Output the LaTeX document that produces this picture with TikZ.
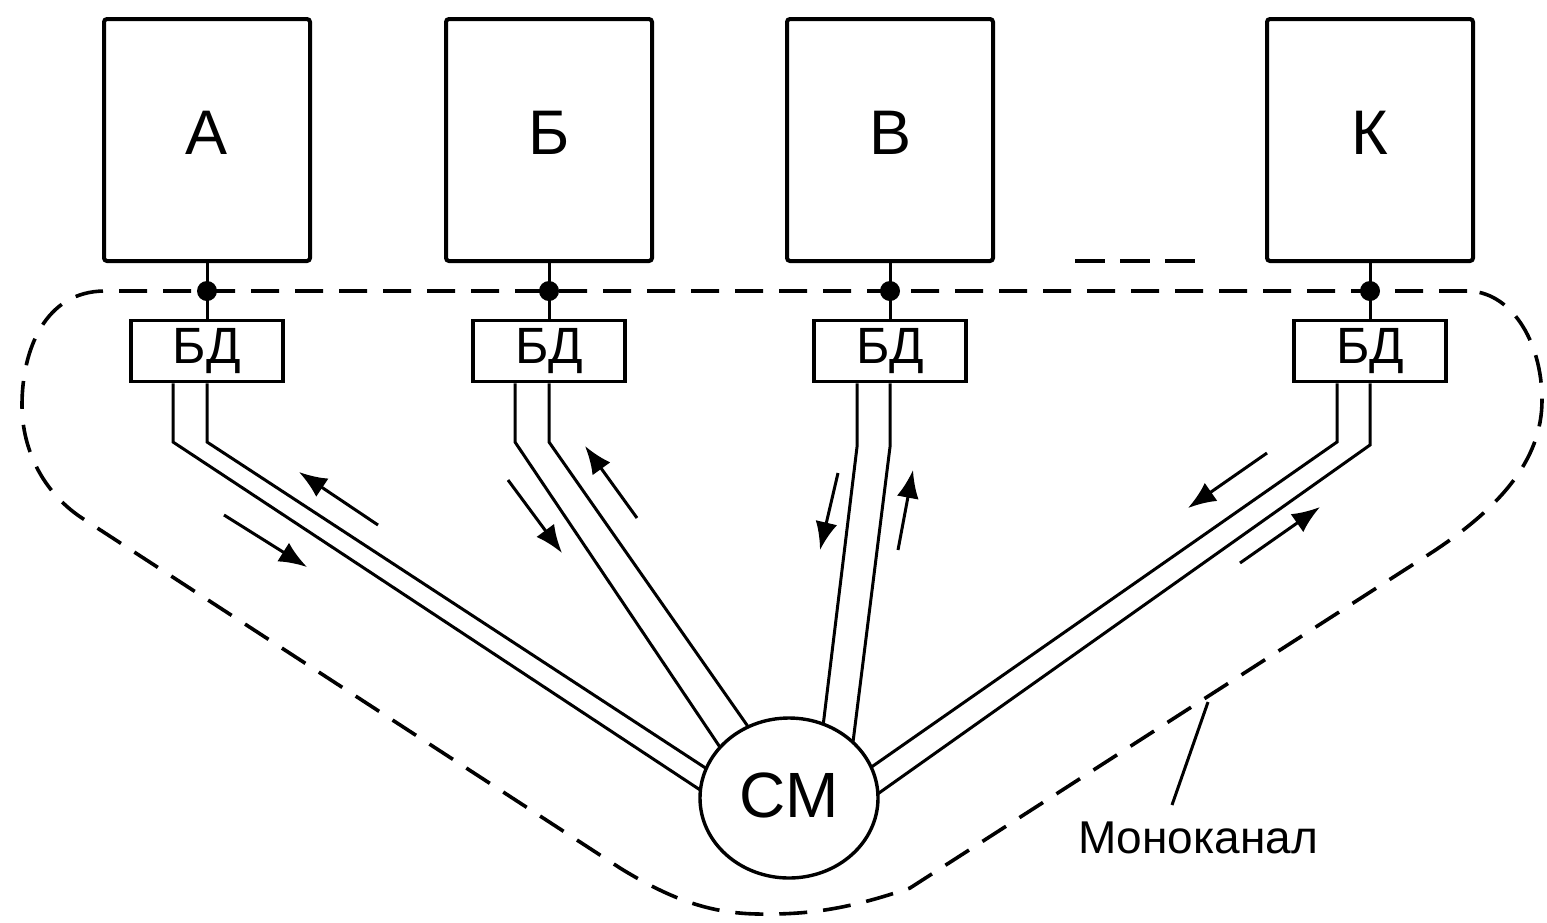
\documentclass[tikz,border=0pt]{standalone}
\usepackage{fontspec}
\setmainfont{Liberation Sans}
\usetikzlibrary{arrows.meta,shapes.geometric}
\begin{document}
\begin{tikzpicture}[x=1pt,y=-1pt,
  termbox/.style={draw, line width=4pt, rounded corners=3pt, minimum width=206pt, minimum height=242pt, inner sep=0pt, text depth=14pt, font=\fontsize{63}{70}\selectfont},
  bdbox/.style={draw, line width=3.5pt, minimum width=152pt, minimum height=61pt, inner sep=0pt, font=\fontsize{51}{56}\selectfont},
  wire/.style={line width=3pt},
  pair/.style={line width=3pt},
  junc/.style={circle, fill=black, inner sep=0pt, minimum size=20pt},
  flow/.style={line width=3pt, -{Latex[length=28pt,width=22pt]}},
  boundary/.style={line width=3.6pt, dash pattern=on 28pt off 16pt},
  cmnode/.style={draw, fill=white, ellipse, line width=3.4pt},
]
\useasboundingbox (0,0) rectangle (1547,922);

% terminals
\node[termbox] (A) at (207,140) {А};
\node[termbox] (B) at (549,140) {Б};
\node[termbox] (V) at (890,140) {В};
\node[termbox] (K) at (1370,140) {К};

% BD nodes
\node[bdbox] (bdA) at (207,351) {БД};
\node[bdbox] (bdB) at (549,351) {БД};
\node[bdbox] (bdV) at (890,351) {БД};
\node[bdbox] (bdK) at (1370,351) {БД};

% junctions
\node[junc] (jA) at (207,291) {};
\node[junc] (jB) at (549,291) {};
\node[junc] (jV) at (890,291) {};
\node[junc] (jK) at (1370,291) {};

\draw[wire] (A.south) -- (jA.center) -- (bdA.north);
\draw[wire] (B.south) -- (jB.center) -- (bdB.north);
\draw[wire] (V.south) -- (jV.center) -- (bdV.north);
\draw[wire] (K.south) -- (jK.center) -- (bdK.north);

% monochannel boundary
\draw[boundary] (1467,291) -- (105,291)
  .. controls (45,291) and (22,350) .. (22,405)
  .. controls (22,452) and (45,495) .. (85,520)
  -- (620,868)
  .. controls (680,905) and (720,915) .. (770,914)
  .. controls (820,914) and (860,905) .. (910,888)
  -- (1420,560)
  .. controls (1500,510) and (1542,460) .. (1542,400)
  .. controls (1542,340) and (1510,291) .. (1467,291);
\draw[boundary, dash pattern=on 30pt off 15pt] (1075,261) -- (1197,261);

% twin lines
\coordinate (a1b) at (173,442); \coordinate (a1e) at (726,807);
\coordinate (a2b) at (207,442); \coordinate (a2e) at (730,784);
\coordinate (b1b) at (515,442); \coordinate (b1e) at (736,771);
\coordinate (b2b) at (549,442); \coordinate (b2e) at (763,748);
\coordinate (v1b) at (857,447); \coordinate (v1e) at (820,751);
\coordinate (v2b) at (890,447); \coordinate (v2e) at (850,766);
\coordinate (k1b) at (1337,442); \coordinate (k1e) at (850,782);
\coordinate (k2b) at (1370,445); \coordinate (k2e) at (855,810);

\draw[pair] (bdA.south -| a1b) -- (a1b) -- (a1e);
\draw[pair] (bdA.south -| a2b) -- (a2b) -- (a2e);
\draw[pair] (bdB.south -| b1b) -- (b1b) -- (b1e);
\draw[pair] (bdB.south -| b2b) -- (b2b) -- (b2e);
\draw[pair] (bdV.south -| v1b) -- (v1b) -- (v1e);
\draw[pair] (bdV.south -| v2b) -- (v2b) -- (v2e);
\draw[pair] (bdK.south -| k1b) -- (k1b) -- (k1e);
\draw[pair] (bdK.south -| k2b) -- (k2b) -- (k2e);

% star coupler
\node[cmnode, minimum width=178pt, minimum height=160pt, inner sep=0pt, text depth=6pt, font=\fontsize{64}{70}\selectfont] (CM) at (789,798) {СМ};

% direction arrows
\draw[flow] (378,525) -- (299,472);
\draw[flow] (224,515) -- (307,567);
\draw[flow] (637,518) -- (585,446);
\draw[flow] (508,480) -- (562,553);
\draw[flow] (838,473) -- (820,550);
\draw[flow] (898,550) -- (913,470);
\draw[flow] (1267,453) -- (1188,508);
\draw[flow] (1240,563) -- (1320,507);

% label
\node[font=\fontsize{46}{50}\selectfont, inner sep=0pt] (mono) at (1198,838) {Моноканал};
\coordinate (monoTip) at (1208,702);
\draw[wire] (1172,805) -- (monoTip);
\end{tikzpicture}
\end{document}
